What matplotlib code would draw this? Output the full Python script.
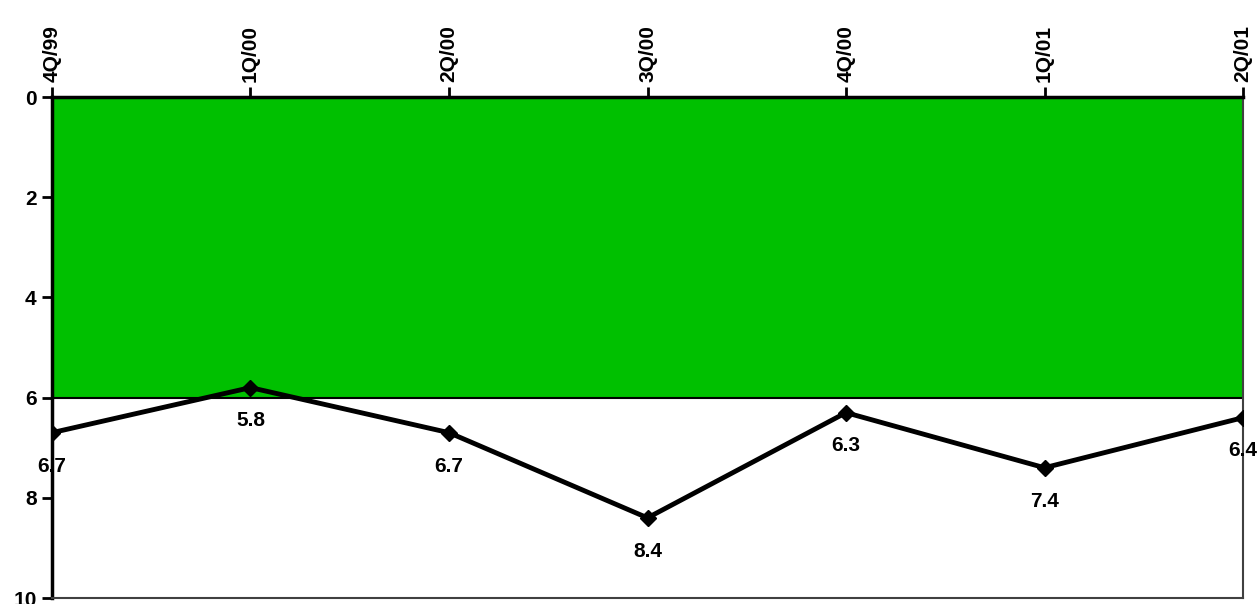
import matplotlib
matplotlib.use('Agg')
import matplotlib.pyplot as plt

quarters = ['4Q/99', '1Q/00', '2Q/00', '3Q/00', '4Q/00', '1Q/01', '2Q/01']
values = [6.7, 5.8, 6.7, 8.4, 6.3, 7.4, 6.4]
target = [6, 6, 6, 6, 6, 6, 6]
y_ticks = [0, 2, 4, 6, 8, 10]

plt.rcParams['font.family'] = ['Liberation Sans', 'DejaVu Sans']
plt.rcParams['font.weight'] = 'bold'

fig = plt.figure(figsize=(12.59, 6.04), dpi=100)
ax = fig.add_axes([0.0413, 0.0099, 0.9460, 0.8295])

x = list(range(len(quarters)))
ax.fill_between(x, 0, target, color='#00c000', linewidth=0, zorder=1)
ax.plot(x, target, color='black', linewidth=1.5, zorder=2)
ax.plot(x, values, color='black', linewidth=3.5, marker='D', markersize=8.5, zorder=3)

for xi, v in zip(x, values):
    ax.annotate(f'{v:.1f}', (xi, v), xytext=(0, -24), textcoords='offset points',
                ha='center', va='center', fontsize=15, fontweight='bold', zorder=4)

ax.set_xlim(0, len(quarters) - 1)
ax.set_ylim(10, 0)
ax.set_xticks(x)
ax.set_xticklabels(quarters, rotation=90, fontsize=15, fontweight='bold')
ax.set_yticks(y_ticks)
ax.set_yticklabels([str(t) for t in y_ticks], fontsize=15, fontweight='bold')
ax.xaxis.tick_top()
ax.tick_params(axis='both', length=7, width=2, color='black', pad=4)

for side in ['left', 'top']:
    ax.spines[side].set_linewidth(2.5)
    ax.spines[side].set_color('black')
for side in ['right', 'bottom']:
    ax.spines[side].set_linewidth(1.5)
    ax.spines[side].set_color('#404040')

fig.savefig('out.png', dpi=100)
